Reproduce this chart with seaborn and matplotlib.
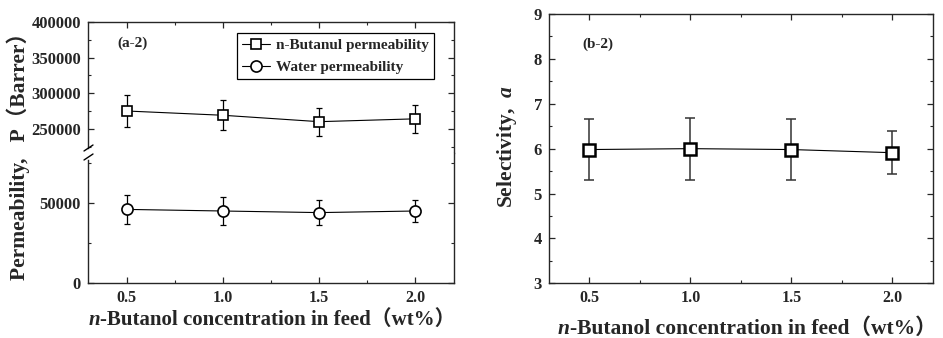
import matplotlib
matplotlib.use("Agg")
import matplotlib.pyplot as plt
import seaborn as sns
from matplotlib.ticker import MultipleLocator, FixedLocator

# ---- data ----
conc = [0.5, 1.0, 1.5, 2.0]
butanol_perm = [275000, 269000, 260000, 264000]
butanol_err = [22000, 21000, 19500, 20000]
water_perm = [46000, 45000, 44000, 45000]
water_err = [9000, 8500, 8000, 7000]
selectivity = [5.98, 6.00, 5.98, 5.91]
selectivity_err = [0.67, 0.69, 0.67, 0.48]
x_ticks = [0.5, 1.0, 1.5, 2.0]
x_tick_labels = ["0.5", "1.0", "1.5", "2.0"]

sns.set_style("ticks")
FAM = ["Liberation Serif", "Noto Sans CJK SC", "DejaVu Sans"]
plt.rcParams["font.family"] = FAM
plt.rcParams["font.weight"] = "bold"
plt.rcParams["mathtext.fontset"] = "custom"
plt.rcParams["mathtext.it"] = "Liberation Serif:italic:bold"
plt.rcParams["mathtext.rm"] = "Liberation Serif:bold"
plt.rcParams["axes.linewidth"] = 1.0

W, H = 943, 338
fig = plt.figure(figsize=(W / 100, H / 100), dpi=100)
ax_up = fig.add_axes([88 / W, (H - 153) / H, 366 / W, 131 / H])
ax_lo = fig.add_axes([88 / W, (H - 283) / H, 366 / W, 130 / H])
ax_r = fig.add_axes([549 / W, (H - 283.3) / H, 383.7 / W, 269.3 / H])

YT_FS = 12
XT_FS = 11.5

for ax in (ax_up, ax_lo):
    ax.errorbar(conc, butanol_perm, yerr=butanol_err, fmt="none", ecolor="black",
                elinewidth=0.9, capsize=2.4, capthick=0.9, zorder=2)
    ax.errorbar(conc, water_perm, yerr=water_err, fmt="none", ecolor="black",
                elinewidth=0.9, capsize=2.4, capthick=0.9, zorder=2)
    sns.lineplot(x=conc, y=butanol_perm, ax=ax, color="black", marker="s",
                 markersize=7, markerfacecolor="white", markeredgecolor="black",
                 markeredgewidth=1.2, linewidth=0.8, zorder=3,
                 label="n-Butanul permeability" if ax is ax_up else None)
    sns.lineplot(x=conc, y=water_perm, ax=ax, color="black", marker="o",
                 markersize=8, markerfacecolor="white", markeredgecolor="black",
                 markeredgewidth=1.2, linewidth=0.8, zorder=3,
                 label="Water permeability" if ax is ax_up else None)
    ax.set_xlim(0.3, 2.2)
    ax.xaxis.set_major_locator(FixedLocator(x_ticks))
    ax.xaxis.set_minor_locator(MultipleLocator(0.25))
    ax.set_ylabel("")
    ax.set_xlabel("")

# upper part
ax_up.set_ylim(216000, 400000)
ax_up.yaxis.set_major_locator(FixedLocator([250000, 300000, 350000, 400000]))
ax_up.yaxis.set_minor_locator(FixedLocator([225000, 275000, 325000, 375000]))
ax_up.set_yticklabels(["250000", "300000", "350000", "400000"])
ax_up.spines["bottom"].set_visible(False)
ax_up.spines["left"].set_bounds(223000, 400000)
ax_up.tick_params(which="both", direction="in", top=True, right=True,
                  bottom=False, labelbottom=False)

# lower part
ax_lo.set_ylim(0, 81250)
ax_lo.yaxis.set_major_locator(FixedLocator([0, 50000]))
ax_lo.yaxis.set_minor_locator(FixedLocator([25000, 75000]))
ax_lo.set_yticklabels(["0", "50000"])
ax_lo.spines["top"].set_visible(False)
ax_lo.spines["left"].set_bounds(0, 77000)
ax_lo.set_xticklabels(x_tick_labels)
ax_lo.tick_params(which="both", direction="in", top=False, right=True)

# right panel
ax_r.errorbar(conc, selectivity, yerr=selectivity_err, fmt="none", ecolor="#333333",
              elinewidth=1.1, capsize=3.5, capthick=1.1, zorder=2)
sns.lineplot(x=conc, y=selectivity, ax=ax_r, color="black", marker="s",
             markersize=9, markerfacecolor="white", markeredgecolor="black",
             markeredgewidth=1.8, linewidth=0.8, zorder=3)
ax_r.set_xlim(0.3, 2.2)
ax_r.set_ylim(3, 9)
ax_r.xaxis.set_major_locator(FixedLocator(x_ticks))
ax_r.xaxis.set_minor_locator(MultipleLocator(0.25))
ax_r.set_xticklabels(x_tick_labels)
ax_r.yaxis.set_major_locator(MultipleLocator(1))
ax_r.yaxis.set_minor_locator(MultipleLocator(0.5))
ax_r.tick_params(which="both", direction="in", top=True, right=True)
ax_r.set_xlabel("")
ax_r.set_ylabel("")

for ax in (ax_up, ax_lo, ax_r):
    ax.tick_params(which="major", length=4, width=0.9, pad=5)
    ax.tick_params(which="minor", length=2, width=0.8)
    ax.tick_params(axis="y", labelsize=YT_FS)
    ax.tick_params(axis="x", labelsize=XT_FS)
    for lab in ax.get_xticklabels() + ax.get_yticklabels():
        lab.set_fontweight("bold")

# break marks on the left spine
for yb in (148, 157):
    fig.add_artist(plt.Line2D([84 / W, 93 / W], [(H - yb - 3) / H, (H - yb + 3) / H],
                              color="black", linewidth=1.0))

leg = ax_up.legend(loc="upper right", bbox_to_anchor=(434 / W, 1 - 33 / H),
                   bbox_transform=fig.transFigure, frameon=True, fancybox=False,
                   edgecolor="black", handlelength=1.8, handletextpad=0.4,
                   borderpad=0.35, borderaxespad=0, labelspacing=0.55,
                   prop={"weight": "bold", "size": 11})
leg.get_frame().set_linewidth(0.9)
leg.get_frame().set_alpha(1)

fig.text(117 / W, 1 - 43 / H, "(a-2)", fontsize=11, fontweight="bold",
         va="center", ha="left")
fig.text(582 / W, 1 - 44 / H, "(b-2)", fontsize=11, fontweight="bold",
         va="center", ha="left")

# x labels: italic "n" followed by the rest, centred on a target span
renderer = fig.canvas.get_renderer()


def xlabel(x_left, x_right, baseline, fs):
    t1 = fig.text(0, 0, "n", style="italic", fontweight="bold", fontsize=fs,
                  va="baseline", ha="left", family=FAM)
    t2 = fig.text(0, 0, "-Butanol concentration in feed（wt%）", fontweight="bold",
                  fontsize=fs, va="baseline", ha="left", family=FAM)
    w1 = t1.get_window_extent(renderer).width
    w2 = t2.get_window_extent(renderer).width
    start = (x_left + x_right) / 2 - (w1 + w2) / 2
    t1.set_position((start / W, 1 - baseline / H))
    t2.set_position(((start + w1 + 0.5) / W, 1 - baseline / H))


xlabel(101.7, 441.7, 325, 15)
xlabel(557, 937, 334, 15.5)

fig.text(18 / W, 1 - 151 / H, "Permeability,   P（Barrer）", rotation=90, ha="center",
         va="center", fontsize=15.5, fontweight="bold", family=FAM)
fig.text(507 / W, 1 - 146.5 / H, "Selectivity,  $\\it{a}$", rotation=90, ha="center",
         va="center", fontsize=15.5, fontweight="bold")

fig.savefig("out.png", dpi=100)
